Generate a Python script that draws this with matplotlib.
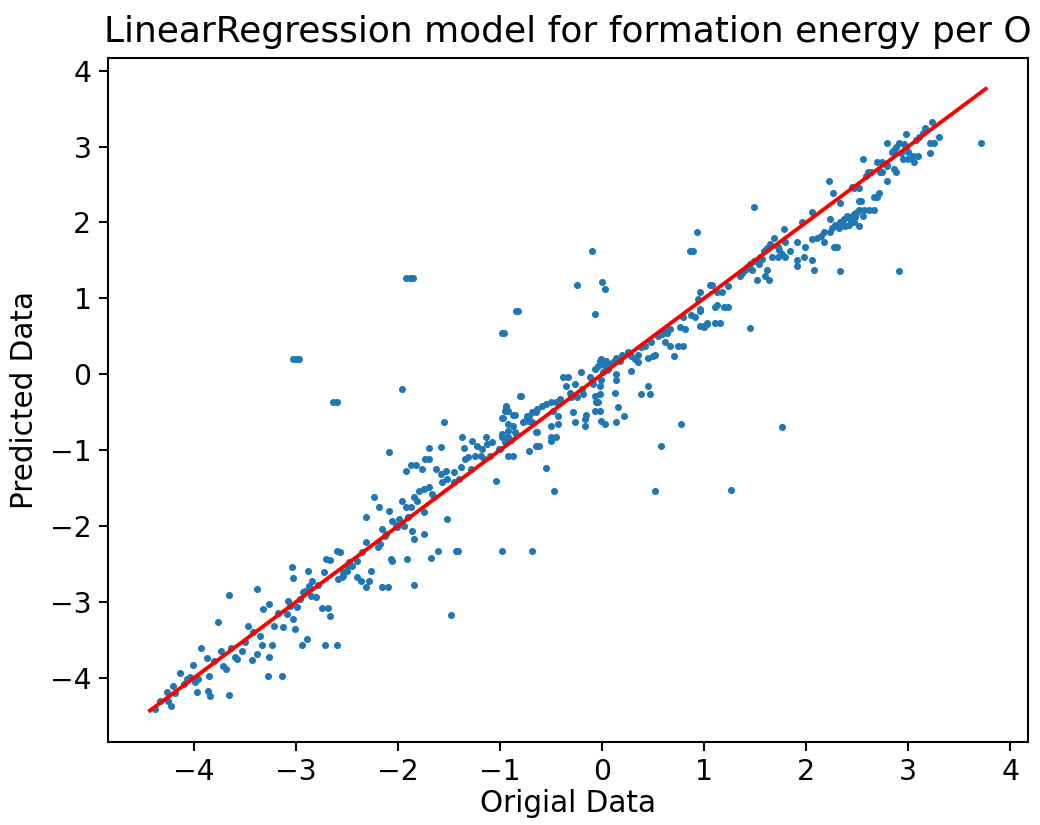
import matplotlib
matplotlib.use("Agg")
import matplotlib.pyplot as plt
from matplotlib.ticker import MultipleLocator
import numpy as np

# (original, predicted) pairs, grouped by region
low_pts = [
    (-4.38, -4.41), (-4.33, -4.30), (-4.26, -4.18), (-4.25, -4.30), (-4.22, -4.37),
    (-4.20, -4.11), (-4.14, -3.93), (-4.10, -4.08), (-4.04, -3.99), (-4.01, -3.83),
    (-3.99, -4.05), (-3.96, -4.01), (-3.97, -4.18), (-3.85, -3.97), (-3.86, -4.17),
    (-3.84, -4.24), (-3.87, -3.74), (-3.93, -3.61), (-3.76, -3.26), (-3.73, -3.64),
    (-3.71, -3.84), (-3.68, -3.88), (-3.66, -4.22), (-3.66, -2.91), (-3.60, -3.72),
    (-3.58, -3.75), (-3.53, -3.64), (-3.47, -3.32), (-3.43, -3.76), (-3.38, -3.68),
    (-3.38, -2.83), (-3.35, -3.45), (-3.33, -3.57), (-3.32, -3.09), (-3.27, -3.97),
    (-3.26, -3.72), (-3.26, -3.03), (-3.23, -3.57), (-3.21, -3.32), (-3.14, -3.97),
    (-3.13, -3.33), (-3.09, -3.16), (-3.08, -2.99), (-3.04, -2.54), (-3.03, -2.68),
    (-3.03, -3.22), (-3.01, -3.36), (-2.99, -3.07), (-2.96, -2.96), (-2.94, -3.57),
    (-2.93, -2.87), (-2.88, -2.59), (-2.89, -3.49), (-2.87, -2.79), (-2.84, -2.72),
    (-2.85, -2.92), (-2.80, -2.93), (-2.74, -3.08), (-2.72, -2.61), (-2.70, -2.43),
    (-2.69, -3.08), (-2.67, -3.18), (-2.71, -3.57), (-2.67, -2.45), (-2.60, -3.57),
    (-2.60, -2.33), (-2.57, -2.34), (-2.55, -2.67), (-2.54, -2.61), (-2.50, -2.53),
    (-4.18, -4.20), (-4.07, -4.02), (-3.80, -3.78), (-3.64, -3.60), (-3.50, -3.52),
    (-3.42, -3.40), (-3.18, -3.15), (-3.06, -3.05), (-2.91, -2.85), (-2.78, -2.77),
]

mid_low_pts = [
    (-2.09, -1.03), (-1.70, -0.97), (-1.58, -0.96), (-1.37, -0.83), (-1.27, -0.88),
    (-1.35, -0.97), (-1.14, -0.83), (-1.13, -0.92), (-1.18, -0.99), (-1.08, -0.89),
    (-0.98, -0.83), (-0.94, -0.43), (-0.92, -0.49), (-0.98, -0.57), (-0.85, -0.54),
    (-0.80, -0.29), (-0.77, -0.63), (-0.74, -0.55), (-0.69, -0.63), (-0.65, -0.76),
    (-0.65, -0.95), (-1.04, -1.41), (-0.98, -2.33), (-0.69, -2.33), (-1.23, -0.95),
    (-1.19, -1.08), (-1.31, -1.09), (-1.24, -1.08), (-1.34, -1.12), (-1.38, -1.22),
    (-1.45, -1.29), (-1.53, -1.28), (-1.63, -1.25), (-1.58, -1.32), (-1.70, -1.12),
    (-1.73, -1.12), (-1.87, -1.20), (-1.82, -1.20), (-1.92, -1.28), (-1.76, -1.25),
    (-1.52, -1.38), (-1.57, -1.42), (-1.70, -1.49), (-1.74, -1.51), (-1.79, -1.54),
    (-1.67, -1.58), (-1.84, -1.61), (-1.81, -1.67), (-1.96, -1.67), (-1.92, -1.75),
    (-1.87, -1.75), (-2.09, -1.80), (-2.23, -1.61), (-2.19, -1.75), (-2.31, -1.88),
    (-1.99, -1.91), (-2.06, -1.93), (-2.01, -2.01), (-1.94, -2.00), (-1.86, -2.07),
    (-1.74, -1.82), (-1.52, -1.91), (-2.16, -2.04), (-2.13, -2.13), (-2.18, -2.24),
    (-2.20, -2.28), (-2.31, -2.21), (-2.35, -2.34), (-2.40, -2.46), (-2.45, -2.53),
    (-2.50, -2.59), (-2.54, -2.66), (-2.59, -2.70), (-2.48, -2.47), (-2.40, -2.67),
    (-2.36, -2.72), (-2.31, -2.80), (-2.28, -2.72), (-2.26, -2.59), (-2.16, -2.80),
    (-2.10, -2.80), (-2.07, -2.43), (-2.06, -2.46), (-1.91, -2.43), (-1.84, -2.17),
    (-1.84, -2.78), (-1.74, -2.11), (-1.68, -2.42), (-1.61, -2.33), (-1.43, -2.33),
    (-1.41, -2.33), (-1.48, -3.17), (-0.92, -0.82), (-0.87, -0.68), (-0.84, -0.79),
    (-0.92, -0.66), (-0.72, -0.62), (-0.65, -0.50), (-0.72, -1.01), (-1.55, -0.63),
    (-2.12, -2.10), (-2.02, -1.98), (-1.90, -1.88), (-1.65, -1.62), (-1.45, -1.42),
    (-1.28, -1.25), (-1.10, -1.08), (-1.00, -0.98), (-1.16, -1.12), (-1.40, -1.38),
]

mid_pts = [
    (-0.79, -0.29), (-0.94, -0.42), (-0.95, -0.49), (-0.97, -0.57), (-0.87, -0.53),
    (-0.75, -0.62), (-0.72, -0.55), (-0.69, -0.50), (-0.64, -0.46), (-0.59, -0.42),
    (-0.55, -0.39), (-0.50, -0.37), (-0.45, -0.36), (-0.41, -0.33), (-0.48, -0.49),
    (-0.43, -0.55), (-0.43, -0.66), (-0.50, -0.68), (-0.50, -0.82), (-0.45, -0.82),
    (-0.50, -0.88), (-0.64, -0.76), (-0.62, -0.95), (-0.55, -1.24), (-0.47, -1.54),
    (-1.01, -0.99), (-0.95, -0.89), (-0.89, -0.86), (-0.92, -1.08), (-0.87, -1.08),
    (-0.98, -0.79), (-0.92, -0.75), (-0.85, -0.76), (-0.38, -0.03), (-0.33, -0.04),
    (-0.35, -0.16), (-0.31, -0.24), (-0.26, -0.13), (-0.21, 0.03), (-0.25, -0.30),
    (-0.19, -0.26), (-0.28, -0.50), (-0.16, -0.53), (-0.17, -0.59), (-0.26, -0.63),
    (-0.17, -0.68), (-0.12, -0.03), (-0.09, -0.13), (-0.07, -0.29), (-0.04, -0.37),
    (-0.02, -0.26), (-0.07, 0.07), (-0.04, 0.11), (-0.02, 0.17), (0.01, 0.16),
    (0.03, 0.11), (-0.01, 0.20), (0.04, 0.17), (0.08, 0.13), (0.06, 0.07),
    (0.01, 0.03), (-0.01, -0.07), (-0.02, -0.16), (0.11, 0.16), (0.14, 0.22),
    (0.14, 0.00), (0.14, -0.07), (0.20, 0.26), (0.25, 0.29), (0.28, 0.24),
    (0.28, 0.04), (0.32, 0.20), (0.35, 0.26), (0.35, 0.16), (0.38, 0.36),
    (0.42, 0.37), (0.45, 0.22), (0.50, 0.24), (0.52, 0.26), (0.48, 0.42),
    (0.55, 0.50), (0.59, 0.53), (0.62, 0.42), (0.67, 0.37), (0.74, 0.37),
    (0.79, 0.37), (0.71, 0.24), (0.61, 0.57), (0.64, 0.55), (0.67, 0.59),
    (0.76, 0.62), (0.81, 0.59), (0.79, 0.76), (0.87, 0.78), (0.91, 0.75),
    (0.96, 0.86), (0.96, 0.63), (1.00, 0.62), (1.03, 0.66), (1.11, 0.89),
    (-0.06, -0.37), (-0.07, -0.49), (-0.02, -0.49), (-0.01, -0.62), (0.03, -0.66),
    (0.14, -0.63), (0.16, -0.43), (0.22, -0.55), (0.13, -0.24), (0.38, -0.26),
    (0.47, -0.26), (0.45, -0.16), (0.77, -0.66), (0.58, -0.95), (0.52, -1.54),
    (-0.30, -0.30), (-0.20, -0.20), (-0.10, -0.08), (0.05, 0.06), (0.18, 0.17),
]

high_pts = [
    (0.96, 1.09), (0.94, 0.99), (0.96, 0.84), (1.08, 1.18), (1.13, 1.09),
    (1.18, 1.09), (1.23, 1.16), (1.13, 0.91), (1.20, 0.88), (1.23, 0.88),
    (1.00, 0.64), (1.03, 0.68), (1.11, 0.68), (1.16, 0.68), (1.45, 0.61),
    (1.35, 1.29), (1.37, 1.34), (1.42, 1.41), (1.45, 1.45), (1.49, 1.49),
    (1.52, 1.51), (1.55, 1.55), (1.59, 1.62), (1.62, 1.67), (1.65, 1.71),
    (1.69, 1.80), (1.47, 1.38), (1.54, 1.45), (1.62, 1.38), (1.52, 1.24),
    (1.60, 1.29), (1.64, 1.24), (1.67, 1.55), (1.72, 1.54), (1.73, 1.64),
    (1.76, 1.58), (1.79, 1.55), (1.79, 1.74), (1.72, 1.68), (1.78, 1.91),
    (1.91, 1.51), (1.91, 1.42), (1.98, 1.55), (1.99, 1.68), (2.06, 1.51),
    (2.08, 1.37), (1.91, 1.74), (1.96, 2.01), (2.06, 2.14), (2.06, 1.78),
    (2.11, 1.80), (2.15, 1.82), (2.18, 1.74), (2.18, 1.87), (2.23, 1.88),
    (2.27, 1.68), (2.30, 1.68), (2.25, 1.93), (2.28, 1.97), (2.33, 2.01),
    (2.37, 2.04), (2.40, 2.08), (2.43, 2.07), (2.47, 2.01), (2.32, 1.93),
    (2.38, 1.95), (2.42, 1.97), (2.47, 2.11), (2.50, 2.14), (2.52, 1.95),
    (2.23, 2.04), (2.22, 2.54), (2.26, 2.39), (2.33, 2.25), (2.45, 2.47),
    (2.52, 2.45), (2.52, 2.28), (2.57, 2.17), (2.62, 2.16), (2.67, 2.16),
    (2.56, 2.08), (2.56, 2.83), (2.69, 2.80), (2.61, 2.67), (2.74, 2.67),
    (2.79, 2.76), (2.79, 2.54), (2.69, 2.34), (2.71, 2.39), (2.86, 2.70),
    (2.84, 2.93), (2.48, 2.07), (2.52, 2.17), (2.54, 2.28), (2.67, 2.34),
    (2.47, 2.46), (2.59, 2.61), (2.64, 2.67), (2.72, 2.67), (2.74, 2.80),
    (2.79, 2.75), (2.88, 2.67), (2.79, 3.05), (2.86, 2.96), (2.88, 3.00),
    (2.91, 3.05), (2.96, 3.03), (3.00, 2.93), (2.95, 2.83), (3.00, 2.83),
    (3.05, 2.87), (3.10, 2.87), (3.06, 2.80), (2.98, 3.16), (3.08, 3.09),
    (3.11, 3.13), (3.15, 3.18), (3.16, 3.25), (3.21, 3.05), (3.25, 3.05),
    (3.21, 2.92), (3.30, 3.12), (3.23, 3.32), (2.93, 2.92), (1.40, 1.38),
    (1.57, 1.52), (1.84, 1.62), (2.35, 1.99), (2.44, 2.03), (2.98, 3.00),
]

outlier_pts = [
    (-3.03, 0.20), (-3.00, 0.20), (-2.97, 0.20), (-2.64, -0.37), (-2.60, -0.37),
    (-1.96, -0.20), (-1.92, 1.27), (-1.88, 1.27), (-1.85, 1.27), (-0.98, 0.55),
    (-0.96, 0.55), (-0.84, 0.83), (-0.82, 0.83), (-0.25, 1.17), (-0.10, 1.63),
    (0.00, 1.22), (0.03, 1.12), (-0.07, 0.80), (0.93, 1.87), (0.86, 1.63),
    (0.89, 1.63), (1.06, 1.18), (1.49, 2.20), (1.26, -1.53), (1.76, -0.69),
    (2.33, 1.36), (2.91, 1.36), (3.71, 3.05),
]

# y = x reference line spans the range of the original data
line_ends = [-4.43, 3.76]

pts = np.array(low_pts + mid_low_pts + mid_pts + high_pts + outlier_pts)

fig = plt.figure(figsize=(1040 / 185, 825 / 185), dpi=185)
ax = fig.add_subplot(111)
fig.subplots_adjust(left=0.104, right=0.988, top=0.930, bottom=0.101)

ax.scatter(pts[:, 0], pts[:, 1], s=3)
ax.plot(line_ends, line_ends, color="red")

ax.xaxis.set_major_locator(MultipleLocator(1))
ax.yaxis.set_major_locator(MultipleLocator(1))
ax.tick_params(labelsize=11, pad=3)

ax.set_title("LinearRegression model for formation energy per O", fontsize=14)
ax.set_xlabel("Origial Data", fontsize=11.5, labelpad=1)
ax.set_ylabel("Predicted Data", fontsize=11.5, labelpad=4)

fig.savefig("out.png", dpi=185)
